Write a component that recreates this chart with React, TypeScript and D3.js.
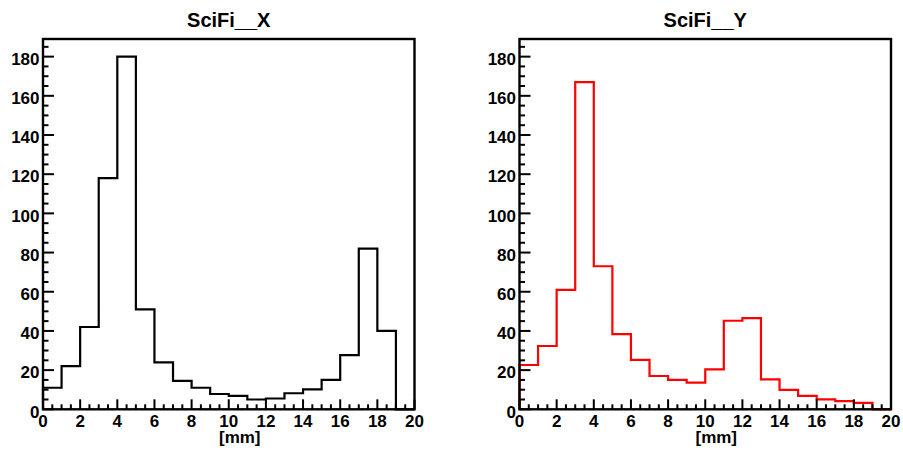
import React from "react";
import * as d3 from "d3";

const binEdges = [0, 1, 2, 3, 4, 5, 6, 7, 8, 9, 10, 11, 12, 13, 14, 15, 16, 17, 18, 19, 20];
const sciFiX = [11, 22, 42, 118, 180, 51, 24, 14.5, 11, 7.8, 6.9, 5, 5.5, 8.2, 10.2, 15, 27.7, 82, 40, 0];
const sciFiY = [22.6, 32.3, 61, 167, 73, 38.4, 25.2, 17, 15, 13.6, 20.4, 45.2, 46.5, 15.3, 9.9, 6.9, 5.1, 4.2, 3.3, 0];
const xTicks = [0, 2, 4, 6, 8, 10, 12, 14, 16, 18, 20];
const yTicks = [0, 20, 40, 60, 80, 100, 120, 140, 160, 180];
const panels = [
  { title: "SciFi__X", values: sciFiX, color: "#000000", left: 43, right: 414.5 },
  { title: "SciFi__Y", values: sciFiY, color: "#ff0000", left: 519.5, right: 891 },
];
const xTitle = "[mm]";

const TOP = 39;
const BOTTOM = 409.3;
const FONT = "'Liberation Sans', Arial, Helvetica, sans-serif";

function Panel({ p }: { p: (typeof panels)[number] }) {
  const x = d3.scaleLinear().domain([0, 20]).range([p.left, p.right]);
  const y = d3.scaleLinear().domain([0, 189]).range([BOTTOM, TOP]);
  const pts: [number, number][] = [[0, 0]];
  p.values.forEach((v, i) => {
    pts.push([binEdges[i], v]);
    pts.push([binEdges[i + 1], v]);
  });
  pts.push([20, 0]);
  const line = d3
    .line<[number, number]>()
    .x((d) => x(d[0]))
    .y((d) => y(d[1]));
  const xMinor = d3.range(0, 20.01, 0.5).filter((v) => Math.abs(v / 2 - Math.round(v / 2)) > 1e-6);
  const yMinor = d3.range(0, 189, 5).filter((v) => v % 20 !== 0);
  const cx = (p.left + p.right) / 2;
  return (
    <g>
      <path d={line(pts) ?? ""} fill="none" stroke={p.color} strokeWidth={2.2} strokeLinejoin="miter" />
      {/* x ticks */}
      {xTicks.map((t) => (
        <line key={"xt" + t} x1={x(t)} x2={x(t)} y1={BOTTOM} y2={BOTTOM - 10} stroke="#000" strokeWidth={2} />
      ))}
      {xMinor.map((t) => (
        <line key={"xm" + t} x1={x(t)} x2={x(t)} y1={BOTTOM} y2={BOTTOM - 5} stroke="#000" strokeWidth={2} />
      ))}
      {yTicks.map((t) => (
        <line key={"yt" + t} x1={p.left} x2={p.left + 11} y1={y(t)} y2={y(t)} stroke="#000" strokeWidth={2} />
      ))}
      {yMinor.map((t) => (
        <line key={"ym" + t} x1={p.left} x2={p.left + 5.5} y1={y(t)} y2={y(t)} stroke="#000" strokeWidth={2} />
      ))}
      <rect x={p.left} y={TOP} width={p.right - p.left} height={BOTTOM - TOP} fill="none" stroke="#000" strokeWidth={2.4} />
      {xTicks.map((t) => (
        <text key={"xl" + t} x={x(t)} y={427} textAnchor="middle" fontSize={17} fontWeight="bold" fontFamily={FONT}>
          {t}
        </text>
      ))}
      {yTicks.map((t) => (
        <text key={"yl" + t} x={p.left - 3.5} y={y(t) + 8.3} textAnchor="end" fontSize={17} fontWeight="bold" fontFamily={FONT}>
          {t}
        </text>
      ))}
      <text x={cx + 11} y={443} textAnchor="middle" fontSize={17} fontWeight="bold" fontFamily={FONT}>
        {xTitle}
      </text>
      <text x={cx} y={26.7} textAnchor="middle" fontSize={20} fontWeight="bold" fontFamily={FONT}>
        {p.title}
      </text>
    </g>
  );
}

export default function App() {
  return (
    <svg
      width={903}
      height={454}
      viewBox="0 0 903 454"
      style={{ position: "absolute", left: 0, top: 0, background: "#fff" }}
    >
      <rect x={0} y={0} width={903} height={454} fill="#fff" />
      {panels.map((p) => (
        <Panel key={p.title} p={p} />
      ))}
    </svg>
  );
}
